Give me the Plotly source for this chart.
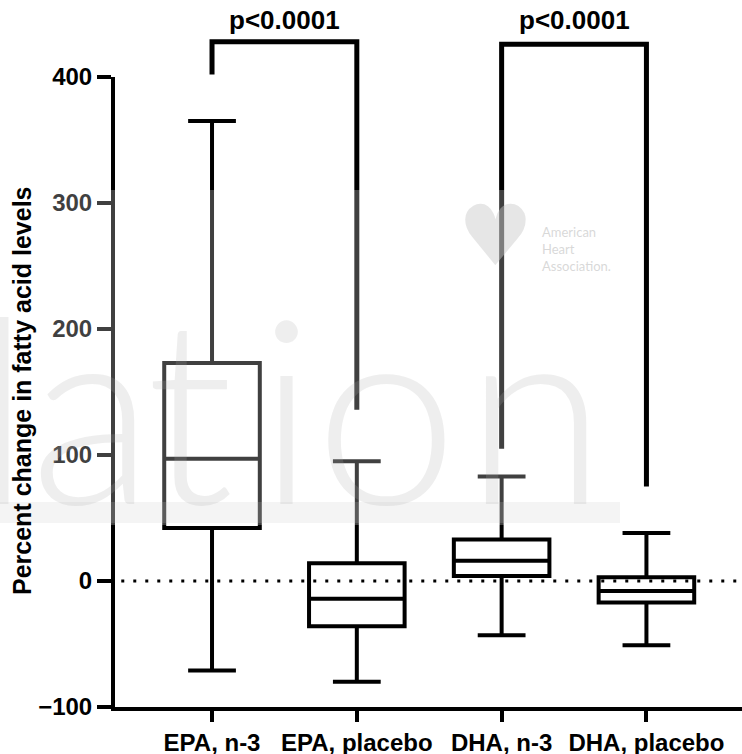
import plotly.graph_objects as go

# ---- data ----
categories = ["EPA, n-3", "EPA, placebo", "DHA, n-3", "DHA, placebo"]
q1_vals = [42, -36, 4, -17]
median_vals = [97, -14, 16, -8]
q3_vals = [173, 14, 33, 3]
min_vals = [-71, -80, -43, -51]
max_vals = [365, 95, 83, 38]

# significance brackets: [left-leg bottom, top, top, right-leg bottom]
bracket1_y = [402, 428, 428, 136]
bracket2_y = [105, 426, 426, 75]
p_labels = ["p<0.0001", "p<0.0001"]
p_label_y = 445
y_ticks = [-100, 0, 100, 200, 300, 400]

# background watermark letters and their horizontal centres (pixels)
watermark_letters = ["l", "a", "t", "i", "o", "n"]
watermark_centers = [2, 92, 190, 286, 386, 535]

FONT = "Liberation Sans, Arial, sans-serif"

W, H = 742, 754
L, R, T, B = 115, 0, 0, 47
PW, PH = W - L - R, H - T - B          # plot area in pixels
Y_MIN, Y_MAX = -100, 400
MAIN_TOP = 707 - 77                     # pixel height of the main y axis (-100..400)
Y2_MAX = Y_MIN + (Y_MAX - Y_MIN) * PH / MAIN_TOP


def px(x):
    return (x - L) / PW


def py(y):
    return (H - B - y) / PH


fig = go.Figure()

fig.add_trace(go.Box(
    x=categories, q1=q1_vals, median=median_vals, q3=q3_vals,
    lowerfence=min_vals, upperfence=max_vals,
    boxpoints=False, width=0.66, whiskerwidth=0.5,
    line=dict(color="black", width=4),
    fillcolor="rgba(0,0,0,0)", showlegend=False, hoverinfo="skip",
    xaxis="x", yaxis="y",
))

for cats, ys in [((categories[0], categories[0], categories[1], categories[1]), bracket1_y),
                 ((categories[2], categories[2], categories[3], categories[3]), bracket2_y)]:
    fig.add_trace(go.Scatter(
        x=list(cats), y=ys, mode="lines",
        line=dict(color="black", width=5), showlegend=False, hoverinfo="skip",
        xaxis="x", yaxis="y2",
    ))

annotations = []
for xi, lab in zip([0.5, 2.5], p_labels):
    annotations.append(dict(x=xi, y=p_label_y, xref="x", yref="y2", text=lab, showarrow=False,
                            font=dict(family=FONT, size=26, color="black", weight=700),
                            xanchor="center", yanchor="middle"))

# y-axis title
annotations.append(dict(x=px(22), y=py(391), xref="paper", yref="paper",
                        text="Percent change in fatty acid levels", textangle=-90,
                        showarrow=False, xanchor="center", yanchor="middle",
                        font=dict(family=FONT, size=25, color="black", weight=700)))

# watermark
for ch, cx in zip(watermark_letters, watermark_centers):
    annotations.append(dict(x=px(cx), y=py(405), xref="paper", yref="paper",
                            text=ch, showarrow=False, xanchor="center", yanchor="middle",
                            font=dict(family="Lato", size=256, color="rgba(170,170,170,0.2)",
                                      weight=300)))
annotations.append(dict(x=px(496), y=py(236), xref="paper", yref="paper",
                        text="♥", showarrow=False, xanchor="center", yanchor="middle",
                        font=dict(family="DejaVu Sans", size=84, color="rgba(200,200,200,0.45)")))
annotations.append(dict(x=px(540), y=py(249), xref="paper", yref="paper",
                        text="American<br>Heart<br>Association.", showarrow=False,
                        xanchor="left", yanchor="middle", align="left",
                        font=dict(family="Lato", size=13, color="rgba(190,190,190,0.6)")))

shapes = [
    # dotted zero line
    dict(type="line", xref="paper", yref="y", x0=0.01, x1=1, y0=0, y1=0,
         line=dict(color="black", width=3, dash="3px,9px"), layer="below"),
    # watermark veil
    dict(type="rect", xref="paper", yref="paper",
         x0=px(0), x1=px(620), y0=py(525), y1=py(190),
         fillcolor="rgba(255,255,255,0.25)", line=dict(width=0), layer="above"),
    dict(type="rect", xref="paper", yref="paper",
         x0=px(0), x1=px(620), y0=py(523), y1=py(502),
         fillcolor="rgba(200,200,200,0.2)", line=dict(width=0), layer="above"),
]

fig.update_layout(
    width=W, height=H,
    margin=dict(l=L, r=R, t=T, b=B, pad=0, autoexpand=False),
    paper_bgcolor="white", plot_bgcolor="rgba(0,0,0,0)",
    showlegend=False,
    annotations=annotations, shapes=shapes,
    xaxis=dict(type="category", range=[-0.67, 3.66], showgrid=False, zeroline=False,
               showline=True, linecolor="black", linewidth=4, automargin=False,
               ticks="outside", ticklen=11, tickwidth=4, tickcolor="black",
               tickfont=dict(family=FONT, size=24, color="black", weight=700),
               anchor="y"),
    yaxis=dict(range=[Y_MIN, Y_MAX], domain=[0, MAIN_TOP / PH], tickvals=y_ticks,
               showgrid=False, zeroline=False, automargin=False,
               showline=True, linecolor="black", linewidth=4,
               ticks="outside", ticklen=14, tickwidth=4, tickcolor="black",
               tickfont=dict(family=FONT, size=24, color="black", weight=700),
               anchor="x"),
    yaxis2=dict(range=[Y_MIN, Y2_MAX], domain=[0, 1], anchor="x", automargin=False,
                visible=False, showgrid=False, zeroline=False),
)

fig.write_html("out.html", config={"displayModeBar": False},
               post_script="document.body.style.margin='0';")
